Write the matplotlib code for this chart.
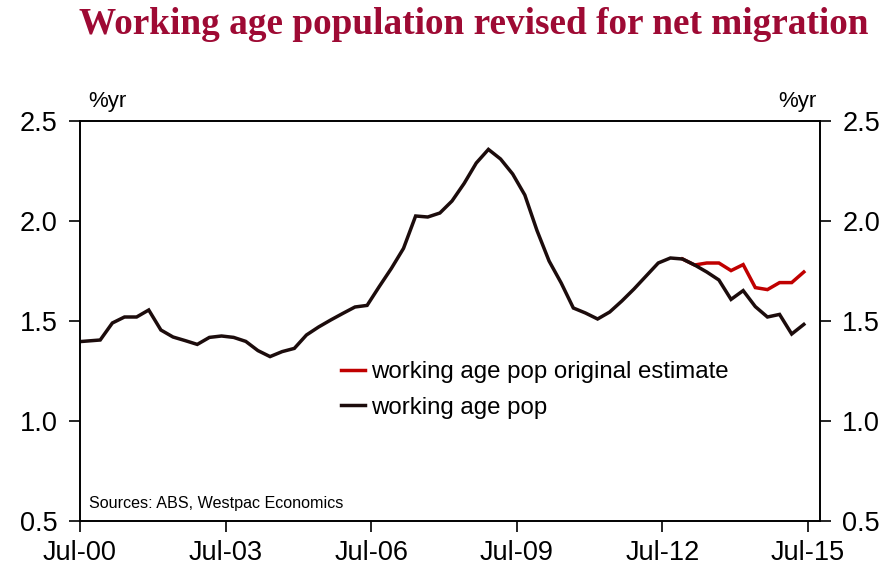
import matplotlib
matplotlib.use("Agg")
import matplotlib.pyplot as plt
import numpy as np

# months since Jul-2000 (quarterly observations)
black_months = [0] + [5 + 3 * k for k in range(59)]
black_values = [1.397,
                1.405, 1.49, 1.52, 1.52, 1.555, 1.455, 1.42, 1.402, 1.383, 1.418,
                1.425, 1.418, 1.398, 1.352, 1.322, 1.347, 1.363, 1.43, 1.47, 1.505,
                1.538, 1.57, 1.578, 1.672, 1.763, 1.863, 2.025, 2.02, 2.04, 2.10,
                2.188, 2.29, 2.358, 2.31, 2.235, 2.13, 1.953, 1.80, 1.69, 1.565,
                1.54, 1.51, 1.545, 1.60, 1.66, 1.725, 1.79, 1.815, 1.81, 1.78,
                1.745, 1.705, 1.608, 1.652, 1.572, 1.52, 1.533, 1.435, 1.483]
red_months = [5 + 3 * k for k in range(48, 59)]
red_values = [1.81, 1.78, 1.79, 1.79, 1.752, 1.782, 1.667, 1.657, 1.692, 1.692, 1.745]

tick_months = [0, 36, 72, 108, 144, 180]
tick_labels = ["Jul-00", "Jul-03", "Jul-06", "Jul-09", "Jul-12", "Jul-15"]
y_ticks = [0.5, 1.0, 1.5, 2.0, 2.5]

plt.rcParams['font.family'] = ['Liberation Sans', 'DejaVu Sans']

fig = plt.figure(figsize=(8.96, 5.87), dpi=100)
ax = fig.add_axes([80/896, 1-521/587, 740/896, 400/587])

ax.plot(red_months, red_values, color='#c00000', lw=2.5, solid_joinstyle='miter',
        label='working age pop original estimate')
ax.plot(black_months, black_values, color='#1c0c0c', lw=2.5, solid_joinstyle='miter',
        label='working age pop')

ax.set_xlim(0, 183)
ax.set_ylim(0.5, 2.5)
ax.set_xticks(tick_months)
ax.set_xticklabels(tick_labels)
ax.set_yticks(y_ticks)
ax.set_yticklabels([f"{v:.1f}" for v in y_ticks])
ax.tick_params(axis='both', direction='out', length=8, width=1.2, labelsize=19.5, colors='black')
ax.tick_params(axis='y', pad=8)
ax.tick_params(axis='x', pad=6)

ax2 = ax.twinx()
ax2.set_ylim(0.5, 2.5)
ax2.set_yticks(y_ticks)
ax2.set_yticklabels([f"{v:.1f}" for v in y_ticks])
ax2.tick_params(axis='y', direction='out', length=8, width=1.2, labelsize=19.5, pad=8)

for a in (ax, ax2):
    for s in a.spines.values():
        s.set_linewidth(1.2)
        s.set_color('black')

leg = ax.legend(loc='center left', bbox_to_anchor=((341-80)/740, (521-390)/400), frameon=False,
                fontsize=17.3, handlelength=1.0, handletextpad=0.27, labelspacing=0.55,
                borderaxespad=0, borderpad=0)

ax.text(0.012, 0.025, "Sources: ABS, Westpac Economics", transform=ax.transAxes,
        fontsize=11.6, ha='left', va='bottom')

fig.text(88/896, 1-102/587, "%yr", fontsize=16, ha='left', va='center')
fig.text(816/896, 1-102/587, "%yr", fontsize=16, ha='right', va='center')

fig.text(868/896, 1-25/587, "Working age population revised for net migration",
         fontsize=26.8, fontweight='bold', family=['Liberation Serif', 'DejaVu Serif'],
         color='#9e0a34', ha='right', va='center')

fig.savefig("out.png", dpi=100)
